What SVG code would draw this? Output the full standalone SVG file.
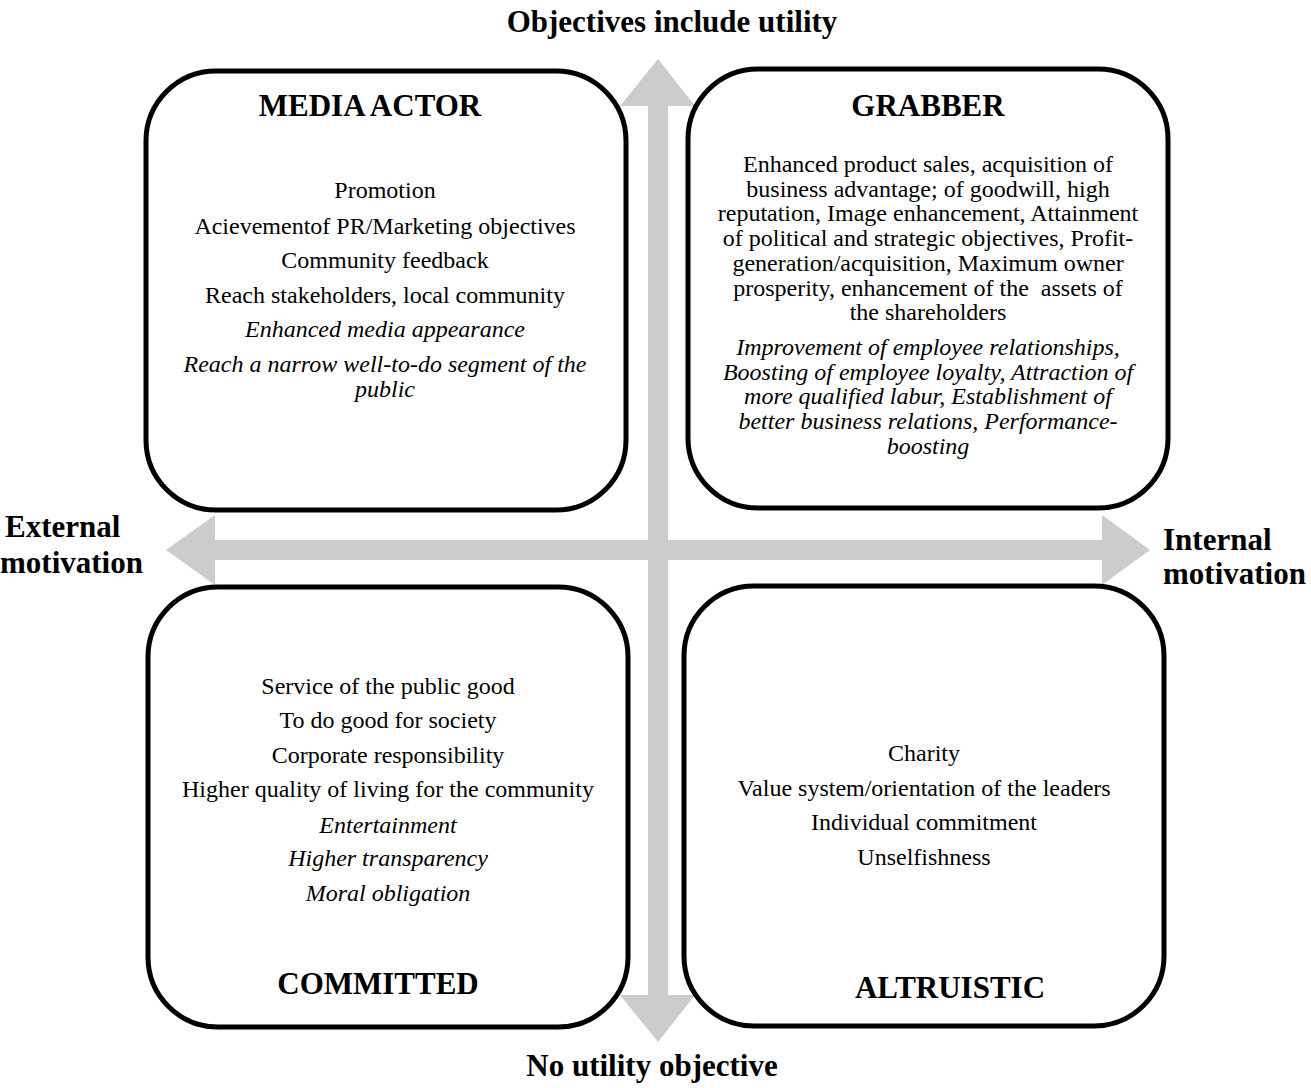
<svg xmlns="http://www.w3.org/2000/svg" width="1311" height="1088" viewBox="0 0 1311 1088">
<style>
.box{fill:#fff;stroke:#000;stroke-width:5}
.arr{fill:#cccccc;stroke:none}
.t{font-family:"Liberation Serif","Times New Roman",serif;font-size:24px;fill:#000;text-anchor:middle}
.i{font-style:italic}
.h{font-family:"Liberation Serif","Times New Roman",serif;font-size:31px;font-weight:bold;fill:#000;text-anchor:middle}
.ax{font-family:"Liberation Serif","Times New Roman",serif;font-size:31px;font-weight:bold;fill:#000}
</style>
<rect width="1311" height="1088" fill="#fff"/>
<g id="connectors">
<polygon class="arr" points="658,59 695,106 668,106 668,995 695,995 658,1042 620,995 648,995 648,106 620,106"/>
<polygon class="arr" points="166,550 215,515 215,540 1102,540 1102,515 1150,550 1102,585 1102,560 215,560 215,585"/>
</g>
<g id="media-actor">
<rect class="box" x="146" y="71" width="480" height="439" rx="70" ry="70"/>
<text class="h" x="370" y="116">MEDIA ACTOR</text>
<text class="t" x="385" y="198">Promotion</text>
<text class="t" x="385" y="234">Acievementof PR/Marketing objectives</text>
<text class="t" x="385" y="268">Community feedback</text>
<text class="t" x="385" y="303">Reach stakeholders, local community</text>
<text class="t i" x="385" y="337">Enhanced media appearance</text>
<text class="t i" x="385" y="372">Reach a narrow well-to-do segment of the</text>
<text class="t i" x="385" y="397">public</text>
</g>
<g id="grabber">
<rect class="box" x="688" y="69" width="480" height="439" rx="70" ry="70"/>
<text class="h" x="928" y="116">GRABBER</text>
<text class="t" x="928" y="172">Enhanced product sales, acquisition of</text>
<text class="t" x="928" y="196.7">business advantage; of goodwill, high</text>
<text class="t" x="928" y="221.4">reputation, Image enhancement, Attainment</text>
<text class="t" x="928" y="246.1">of political and strategic objectives, Profit-</text>
<text class="t" x="928" y="270.8">generation/acquisition, Maximum owner</text>
<text class="t" x="928" y="295.5" xml:space="preserve">prosperity, enhancement of the  assets of</text>
<text class="t" x="928" y="320.2">the shareholders</text>
<text class="t i" x="928" y="355">Improvement of employee relationships,</text>
<text class="t i" x="928" y="379.7">Boosting of employee loyalty, Attraction of</text>
<text class="t i" x="928" y="404.4">more qualified labur, Establishment of</text>
<text class="t i" x="928" y="429.1">better business relations, Performance-</text>
<text class="t i" x="928" y="453.8">boosting</text>
</g>
<g id="committed">
<rect class="box" x="148" y="587" width="480" height="440" rx="70" ry="70"/>
<text class="t" x="388" y="694">Service of the public good</text>
<text class="t" x="388" y="728">To do good for society</text>
<text class="t" x="388" y="763">Corporate responsibility</text>
<text class="t" x="388" y="797">Higher quality of living for the community</text>
<text class="t i" x="388" y="833">Entertainment</text>
<text class="t i" x="388" y="866">Higher transparency</text>
<text class="t i" x="388" y="901">Moral obligation</text>
<text class="h" x="378" y="994">COMMITTED</text>
</g>
<g id="altruistic">
<rect class="box" x="684" y="586" width="480" height="440" rx="70" ry="70"/>
<text class="t" x="924" y="761">Charity</text>
<text class="t" x="924" y="796">Value system/orientation of the leaders</text>
<text class="t" x="924" y="830">Individual commitment</text>
<text class="t" x="924" y="865">Unselfishness</text>
<text class="h" x="950" y="998">ALTRUISTIC</text>
</g>
<g id="axis-labels">
<text class="ax" x="672" y="32" text-anchor="middle">Objectives include utility</text>
<text class="ax" x="652" y="1076" text-anchor="middle">No utility objective</text>
<text class="ax" x="5" y="537">External</text>
<text class="ax" x="0" y="573">motivation</text>
<text class="ax" x="1163" y="550">Internal</text>
<text class="ax" x="1163" y="584">motivation</text>
</g>
</svg>
